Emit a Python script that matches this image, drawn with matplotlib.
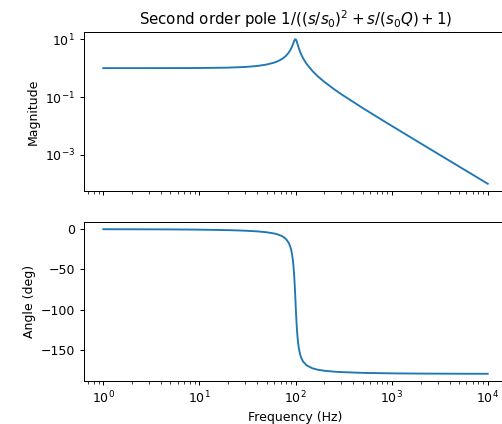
import matplotlib
matplotlib.use("Agg")
import matplotlib.pyplot as plt
from matplotlib.ticker import FixedLocator, NullLocator

freq_hz = [1, 2, 5, 10, 20, 30, 40, 50, 60, 65, 70, 75, 80, 85, 88, 90, 92, 94, 95,
           96, 97, 98, 99, 100, 101, 102, 103, 104, 105, 106, 108, 110, 112, 115,
           120, 130, 150, 170, 200, 250, 300, 500, 1000, 2000, 5000, 10000]
magnitude = [1.0001, 1.0004, 1.0025, 1.0100, 1.0414, 1.0983, 1.1891, 1.3304, 1.5557,
             1.7208, 1.9426, 2.2529, 2.7116, 3.4456, 4.1295, 4.7565, 5.5852, 6.6837,
             7.3460, 8.0680, 8.8037, 9.4610, 9.9029, 10.0, 9.7106, 9.1150, 8.3572,
             7.5648, 6.8149, 6.1414, 5.0409, 4.2182, 3.5976, 2.9206, 2.1926, 1.4242,
             0.79430, 0.52697, 0.33259, 0.19026, 0.12491, 0.041658, 0.010100,
             0.0025062, 4.0016e-4, 1.0001e-4]
angle_deg = [-0.057, -0.115, -0.287, -0.579, -1.194, -1.888, -2.726, -3.814, -5.356,
             -6.42, -7.815, -9.728, -12.529, -17.03, -21.30, -25.38, -30.94, -38.93,
             -44.26, -50.76, -58.65, -68.00, -78.63, -90.0, -101.26, -111.60, -120.59,
             -128.10, -134.31, -139.38, -147.05, -152.36, -156.25, -160.37, -164.74,
             -169.33, -173.16, -174.86, -176.19, -177.27, -177.85, -178.81, -179.42,
             -179.71, -179.89, -179.94]
mag_major_ticks = [1e-3, 1e-1, 1e1]

DPI = 90
fig = plt.figure(figsize=(502 / DPI, 424 / DPI), dpi=DPI)
ax1 = fig.add_axes([84/502, 1 - 191/424, 423/502, 159/424])
ax2 = fig.add_axes([84/502, 1 - 381/424, 423/502, 159/424], sharex=ax1)

ax1.loglog(freq_hz, magnitude)
ax1.set_ylabel("Magnitude")
ax1.set_title(r"Second order pole $1/((s/s_0)^2 + s/(s_0Q) + 1)$")
ax1.tick_params(labelbottom=False)
ax1.yaxis.set_major_locator(FixedLocator(mag_major_ticks))
ax1.yaxis.set_minor_locator(NullLocator())

ax2.semilogx(freq_hz, angle_deg)
ax2.set_ylabel("Angle (deg)")
ax2.set_xlabel("Frequency (Hz)")

fig.savefig("out.png", dpi=DPI)
